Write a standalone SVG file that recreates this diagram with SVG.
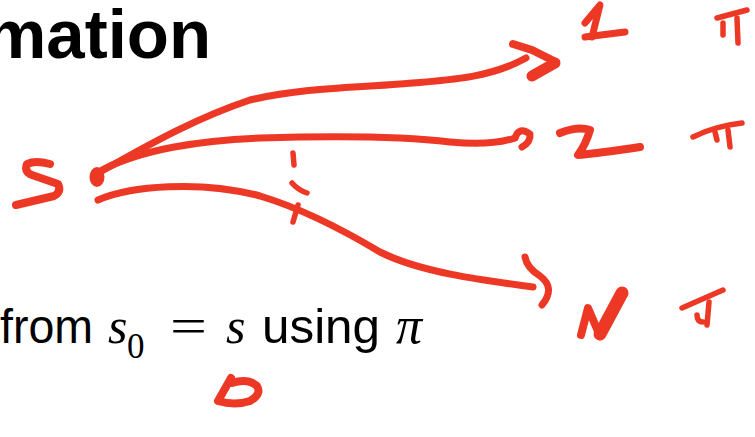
<svg xmlns="http://www.w3.org/2000/svg" width="755" height="437" viewBox="0 0 755 437">
<style>
.ink{fill:none;stroke:#EE3826;stroke-linecap:round;stroke-linejoin:round}
.w7{stroke-width:7}
.w8{stroke-width:8}
.w5{stroke-width:5.5}
.sans{font-family:"Liberation Sans",Arial,sans-serif;fill:#000}
.math{font-family:"Liberation Serif","Times New Roman",serif;font-style:italic;fill:#000}
.mathr{font-family:"Liberation Serif","Times New Roman",serif;fill:#000}
</style>
<rect width="755" height="437" fill="#fff"/>
<text class="sans" x="-15" y="58" font-size="69" font-weight="bold">mation</text>
<g id="formula">
<text class="sans" x="0" y="343" font-size="48" textLength="93" lengthAdjust="spacingAndGlyphs">from</text>
<text class="math" x="108" y="343" font-size="50">s</text>
<text class="mathr" x="127" y="358" font-size="35">0</text>
<text class="mathr" x="170" y="343" font-size="50" textLength="37" lengthAdjust="spacingAndGlyphs">=</text>
<text class="math" x="226" y="343" font-size="50">s</text>
<text class="sans" x="262" y="343" font-size="48" textLength="118" lengthAdjust="spacingAndGlyphs">using</text>
<text class="math" x="396" y="343" font-size="52">π</text>
</g>
<g id="node-s">
<path class="ink w8" d="M50,164 Q35,160 27,164 Q24,172 32,175 L58,184 Q62,192 54,196 L16,205"/>
<ellipse cx="97" cy="177" rx="7.5" ry="10" fill="#EE3826"/>
</g>
<g id="connectors">
<path class="ink w7" d="M100,172 C140,150 190,120 250,100 C300,88 350,88 400,84 C450,80 490,78 526,58"/>
<path class="ink w8" d="M513,44 L532,50 L556,62"/>
<path class="ink" stroke-width="11" d="M555,63 L532,76"/>
<path class="ink w7" d="M102,170 C140,150 200,140 260,138 C330,136 400,136 450,142 C480,145 500,143 515,138"/>
<path class="ink w7" d="M515,138 Q519,126 530,134 Q531,142 522,147"/>
<path class="ink w7" d="M98,200 C130,186 200,180 260,196 C300,208 340,228 380,252 C420,272 480,280 533,287"/>
<path class="ink w7" d="M525,257 Q527,268 540,276 Q556,288 542,305"/>
<path class="ink w5" d="M293,153 L294,165"/>
<path class="ink w5" d="M292,183 Q298,190 307,193"/>
<path class="ink w5" d="M298,205 L293,222"/>
</g>
<g id="node-1">
<path class="ink w7" d="M585,23 L600,5 L592,37"/>
<path class="ink w7" d="M585,37 L625,32"/>
<path class="ink w5" d="M717,18 L747,10"/>
<path class="ink w5" d="M723,23 L723,35"/>
<path class="ink w5" d="M737,18 L738,43"/>
</g>
<g id="node-2">
<path class="ink w8" d="M560,133 Q578,126 590,130 Q586,144 578,155 Q600,153 640,147"/>
<path class="ink w5" d="M693,137 Q715,126 742,123"/>
<path class="ink w5" d="M715,132 L717,140"/>
<path class="ink w5" d="M728,130 L730,147"/>
</g>
<g id="node-N">
<path class="ink w8" d="M581,335 L588,308 L600,336"/>
<path class="ink" stroke-width="13" d="M600,334 L622,293"/>
<path class="ink w5" d="M682,308 Q700,300 723,290"/>
<path class="ink w5" d="M709,302 L707,325"/>
<path class="ink w5" d="M697,315 Q697,322 703,322"/>
</g>
<g id="mark">
<path class="ink w8" d="M231,378 L218,401 Q235,406 250,401 Q262,394 257,386 Q248,378 232,383"/>
</g>
</svg>
